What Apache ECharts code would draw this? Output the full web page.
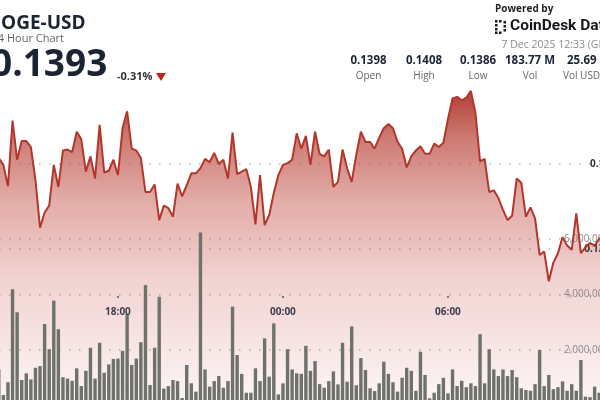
<!DOCTYPE html>
<html><head><meta charset="utf-8">
<script src="https://cdn.jsdelivr.net/npm/echarts@6/dist/echarts.min.js"></script>
<style>
html,body{margin:0;padding:0;background:#fff;width:600px;height:400px;overflow:hidden;position:relative}
#c{position:absolute;left:-31px;top:0;width:660px;height:420px}
</style>
</head><body><div id="c"></div>
<script>
// 10-minute buckets, 12:40 (6 Dec) .. 12:30 (7 Dec)
const categories = [];
for (let k = 0; k < 144; k++) {
  const m = (12 * 60 + 40 + 10 * k) % 1440;
  categories.push(String(Math.floor(m / 60)).padStart(2, '0') + ':' + String(m % 60).padStart(2, '0'));
}
const tickLabels = ['18:00', '00:00', '06:00'];

const price = [
  0.13980,0.13987,0.13993,0.13984,0.13995,0.14002,0.14007,0.13999,0.13974,0.14051,
  0.14005,0.14027,0.14027,0.14020,0.13981,0.13925,0.13943,0.13951,0.13999,0.13973,
  0.14016,0.14017,0.14014,0.14038,0.14029,0.13991,0.14009,0.13983,0.14046,0.13990,
  0.13992,0.14005,0.13987,0.14042,0.14062,0.14018,0.14016,0.14007,0.13967,0.13967,
  0.13976,0.13934,0.13951,0.13948,0.13938,0.13977,0.13962,0.13975,0.13989,0.13989,
  0.13995,0.14006,0.14002,0.14013,0.14000,0.14005,0.13983,0.14037,0.13988,0.13991,
  0.13994,0.13973,0.13929,0.13987,0.13928,0.13940,0.13966,0.13987,0.13999,0.14001,
  0.14005,0.14036,0.14018,0.14033,0.13999,0.14038,0.14012,0.14009,0.14017,0.13973,
  0.13979,0.14017,0.13995,0.13979,0.14011,0.14038,0.14026,0.14026,0.14018,0.14031,
  0.14042,0.14047,0.14042,0.14026,0.14018,0.13996,0.14009,0.14016,0.14021,0.14012,
  0.14012,0.14024,0.14020,0.14025,0.14053,0.14077,0.14079,0.14075,0.14078,0.14086,
  0.14060,0.14003,0.14006,0.13967,0.13969,0.13960,0.13946,0.13934,0.13939,0.13983,
  0.13978,0.13938,0.13949,0.13936,0.13893,0.13897,0.13862,0.13884,0.13895,0.13914,
  0.13904,0.13899,0.13942,0.13895,0.13902,0.13907,0.13904,0.13912,0.13916,0.13911,
  0.13920,0.13925,0.13927,0.13930
];

// volume in millions of DOGE
const volumeM = [
  1.00,0.80,1.50,0.90,1.20,0.70,1.30,0.38,0.84,4.19,
  3.36,0.92,1.16,0.94,1.36,1.42,2.94,2.03,3.78,2.75,
  1.02,0.97,0.89,1.34,0.70,1.25,2.08,0.97,2.26,1.18,
  1.48,1.68,1.69,1.97,3.30,1.46,1.69,2.28,4.34,0.74,
  2.08,3.92,0.61,0.70,0.92,0.88,0.27,1.46,0.80,0.50,
  6.23,1.30,0.68,0.88,1.06,0.64,0.88,3.56,1.82,1.14,
  0.46,0.46,1.34,0.88,2.42,1.04,2.96,0.40,0.80,2.03,
  1.30,1.16,1.14,2.15,1.25,1.60,0.77,0.64,0.88,1.23,
  0.76,2.26,0.86,2.85,0.73,1.71,1.28,0.62,0.52,0.80,
  1.58,1.14,0.84,0.50,1.00,1.36,1.25,0.53,1.94,1.10,
  0.26,0.46,0.77,1.00,0.44,1.30,0.70,0.89,0.66,0.80,
  0.70,2.57,0.80,2.03,1.30,1.06,1.30,1.06,1.28,1.02,
  0.62,0.56,0.53,0.77,2.00,0.70,1.10,0.59,0.66,0.87,
  0.53,0.77,0.53,1.64,0.32,0.30,0.68,0.46,0.90,0.60,
  1.10,0.70,0.50,0.80
];

const statValues = ['0.1398', '0.1408', '0.1386', '183.77 M', '25.69 M'];
const statLabels = ['Open', 'High', 'Low', 'Vol', 'Vol USD'];

const FONT = 'Open Sans';
const OX = 31; // container is shifted 31px left of the page
const H = 420; // container height
const dotted = { type: [1.5, 8.5], color: 'rgba(110,110,110,0.5)', width: 1.5 };
const isTick = (i) => tickLabels.indexOf(categories[i]) >= 0;

const statCx = [368.5, 424, 478, 530];
const graphic = [
  { type: 'text', x: OX - 13, y: 23.5, style: { text: 'DOGE-USD', font: 'bold 19px ' + FONT, fill: '#1c2434', verticalAlign: 'middle' } },
  { type: 'text', x: OX - 8.5, y: 39, style: { text: '24 Hour Chart', font: '11px ' + FONT, fill: '#666', verticalAlign: 'middle' } },
  { type: 'text', x: OX - 9, y: 65, style: { text: '0.1393', font: 'bold 37px ' + FONT, fill: '#1c2434', verticalAlign: 'middle' } },
  { type: 'text', x: OX + 117, y: 76.5, style: { text: '-0.31%', font: 'bold 11px ' + FONT, fill: '#333', verticalAlign: 'middle' } },
  { type: 'polygon', shape: { points: [[OX + 156, 73], [OX + 166, 73], [OX + 161, 81]] }, style: { fill: '#b8261d' } },
  { type: 'text', x: OX + 495, y: 9, style: { text: 'Powered by', font: 'bold 10px ' + FONT, fill: '#1f1f1f', verticalAlign: 'middle' } }
];
[[495, 20], [495, 24], [495, 28], [495, 31.5], [499, 20], [499, 31.5], [503.5, 21], [503.5, 25], [503.5, 29]].forEach(p => {
  graphic.push({ type: 'rect', shape: { x: OX + p[0], y: p[1], width: 2.5, height: 2.5 }, style: { fill: '#16161d' } });
});
graphic.push({ type: 'text', x: OX + 510, y: 26.5, style: { text: 'CoinDesk Data', font: 'bold 15.5px Roboto', fill: '#16161d', verticalAlign: 'middle' } });
graphic.push({ type: 'text', x: OX + 501.5, y: 45.5, style: { text: '7 Dec 2025 12:33 (GMT)', font: '10.5px ' + FONT, fill: '#8c8c8c', verticalAlign: 'middle' } });
statValues.forEach((t, k) => {
  const last = k === 4;
  graphic.push({ type: 'text', x: OX + (last ? 567 : statCx[k]), y: 60.5, style: { text: t, font: 'bold 11.5px ' + FONT, fill: '#1c2434', align: last ? 'left' : 'center', verticalAlign: 'middle' } });
});
statLabels.forEach((t, k) => {
  const last = k === 4;
  graphic.push({ type: 'text', x: OX + (last ? 563 : statCx[k]), y: 76.5, style: { text: t, font: '10px ' + FONT, fill: '#666', align: last ? 'left' : 'center', verticalAlign: 'middle' } });
});

const chart = echarts.init(document.getElementById('c'), null, { renderer: 'canvas' });
chart.setOption({
  animation: false,
  backgroundColor: '#fff',
  textStyle: { fontFamily: FONT },
  grid: [
    { left: 0, right: 0, top: 79, bottom: H - 419 },       // price area
    { left: 0, right: 0, top: 164, height: 85 },            // price gridlines 0.140 / 0.139
    { left: 0, right: 0, top: 239, bottom: H - 405.5 },     // volume
    { left: 0, right: 0, top: 200, bottom: H - 296 }        // time labels
  ],
  xAxis: [
    { gridIndex: 0, type: 'category', data: categories, show: false },
    { gridIndex: 1, type: 'category', data: categories, show: false },
    { gridIndex: 2, type: 'category', data: categories, show: false },
    { gridIndex: 3, type: 'category', data: categories, boundaryGap: true, z: 5,
      axisLine: { show: false },
      axisTick: { show: true, alignWithLabel: true, interval: isTick, length: 2, lineStyle: { color: '#555', width: 1.5 } },
      axisLabel: { interval: isTick, fontSize: 10, fontWeight: 'bold', color: '#3a3f4a', margin: 11, fontFamily: FONT },
      splitLine: { show: false } }
  ],
  yAxis: [
    { gridIndex: 0, type: 'value', min: 0.137, max: 0.141, show: false, splitLine: { show: false } },
    { gridIndex: 1, type: 'value', min: 0.139, max: 0.140, interval: 0.001, position: 'right', z: 2,
      axisLine: { show: false }, axisTick: { show: false },
      axisLabel: { inside: true, align: 'right', margin: 19, fontSize: 10, fontWeight: 'bold', color: '#333', fontFamily: FONT, showMinLabel: true, showMaxLabel: true },
      splitLine: { show: true, lineStyle: dotted } },
    { gridIndex: 2, type: 'value', min: 0, max: 6000000, interval: 2000000, position: 'right', z: 2,
      axisLine: { show: false }, axisTick: { show: false },
      axisLabel: { inside: true, align: 'left', margin: 65, showMinLabel: false, showMaxLabel: true, fontSize: 10, color: '#888', fontFamily: FONT },
      splitLine: { show: true, lineStyle: dotted } },
    { gridIndex: 3, type: 'value', show: false, splitLine: { show: false } }
  ],
  series: [
    { type: 'line', name: 'area', xAxisIndex: 0, yAxisIndex: 0, data: price, symbol: 'none', z: 1,
      lineStyle: { width: 0 },
      areaStyle: { opacity: 1, color: { type: 'linear', x: 0, y: 90, x2: 0, y2: 405, global: true, colorStops: [
        { offset: 0, color: '#b23d33' }, { offset: 0.15, color: '#cc7a72' }, { offset: 0.35, color: '#e2aca7' },
        { offset: 0.6, color: '#f1d3d1' }, { offset: 1, color: '#fdf6f6' } ] } } },
    { type: 'bar', name: 'volume', xAxisIndex: 2, yAxisIndex: 2, data: volumeM.map(v => v * 1e6), barWidth: 3.4,
      clip: false, z: 3, itemStyle: { color: '#6f726b' } },
    { type: 'line', name: 'price', xAxisIndex: 0, yAxisIndex: 0, data: price, symbol: 'none', z: 4,
      lineStyle: { width: 2, color: '#b3362c' } }
  ],
  graphic: graphic
});
</script></body></html>
